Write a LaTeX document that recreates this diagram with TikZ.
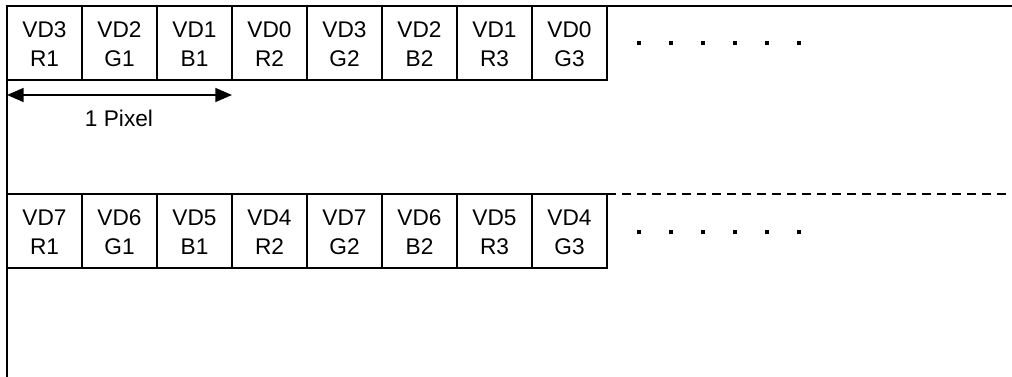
\documentclass[tikz,border=0pt]{standalone}
\usepackage{fontspec}
\setmainfont{Liberation Sans}
\usetikzlibrary{arrows.meta}

\tikzset{
  cell/.style={draw, rectangle, inner sep=0pt, outer sep=0pt, minimum width=56.25pt,
    minimum height=55.5pt, align=center, text height=34.85pt, text depth=0pt,
    font=\fontsize{17pt}{21.75pt}\selectfont},
  dotmark/.style={fill=black}
}

\begin{document}
\begin{tikzpicture}[x=0.75pt,y=-0.75pt, line width=1.1pt]
  \useasboundingbox (0,0) rectangle (1012,377);
  % upper row of cells
  \foreach \vd/\ch [count=\i] in {VD3/R1,VD2/G1,VD1/B1,VD0/R2,VD3/G2,VD2/B2,VD1/R3,VD0/G3}
    \node[cell] (t\i) at ({44.5+75*(\i-1)},43) {\vd\\\ch};
  % lower row of cells
  \foreach \vd/\ch [count=\i] in {VD7/R1,VD6/G1,VD5/B1,VD4/R2,VD7/G2,VD6/B2,VD5/R3,VD4/G3}
    \node[cell] (b\i) at ({44.5+75*(\i-1)},231) {\vd\\\ch};
  \coordinate (topend) at (1012,6);
  \coordinate (leftend) at (7,377);
  \coordinate (dashend) at (1012,194);
  \draw (t1.north west) -- (topend);
  \draw (t1.north west) -- (leftend);
  \draw[dash pattern=on 6.75pt off 4.5pt] (b8.north east) -- (dashend);
  % one pixel arrow
  \coordinate (pxl) at (7,95);
  \coordinate (pxr) at (232,95);
  \draw[{Triangle[length=12.5pt,width=10.5pt]}-{Triangle[length=12.5pt,width=10.5pt]}] (pxl) -- (pxr);
  \node[anchor=base, font=\fontsize{17pt}{21.75pt}\selectfont] (pixlbl) at (119,127) {1 Pixel};
  % dots
  \foreach \x in {639,671,703,735,767,799} {
    \fill[dotmark] (\x-1.8,41) rectangle (\x+1.8,44.6);
    \fill[dotmark] (\x-1.8,230) rectangle (\x+1.8,233.6);
  }
\end{tikzpicture}
\end{document}
